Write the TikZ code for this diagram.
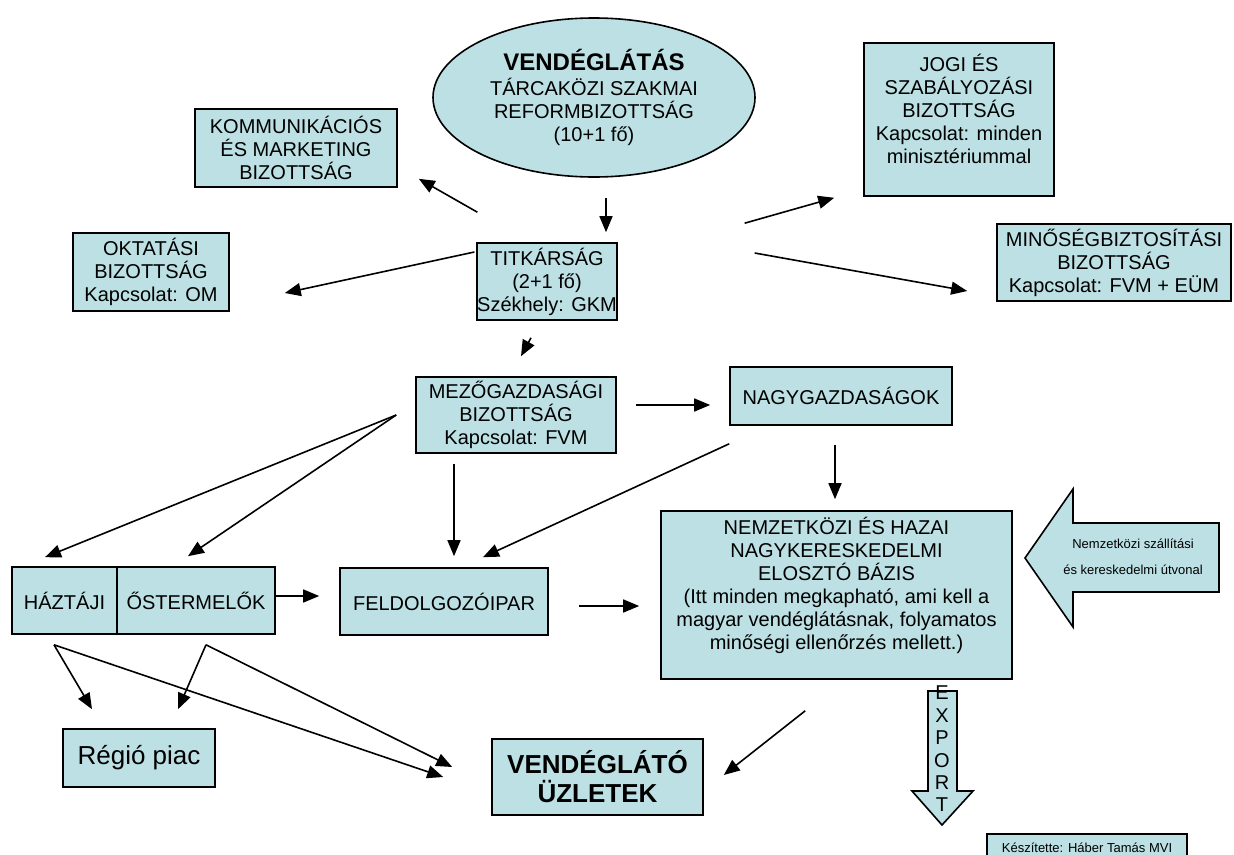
\documentclass[tikz,border=0pt]{standalone}
\usepackage{fontspec}
\setmainfont{Liberation Sans}
\usetikzlibrary{arrows.meta,shapes.geometric,calc}
\definecolor{boxfill}{RGB}{188,224,227}
\begin{document}
\begin{tikzpicture}[x=1pt,y=-1pt,
  box/.style={draw=black,line width=1.6pt,fill=boxfill,align=center,inner sep=0pt,font=\fontsize{20}{23}\selectfont},
  txt/.style={align=center,inner sep=0pt,font=\fontsize{20}{23}\selectfont},
  arr/.style={line width=1.6pt,-{Triangle[length=16pt,width=13pt]}},
  bigarrow/.style={draw=black,line width=1.6pt,fill=boxfill,line join=miter}]
\useasboundingbox (0,0) rectangle (1234,854);

% nodes
\node[box,ellipse,minimum width=322pt,minimum height=159pt] (ell) at (594,97.5)
  {{\fontsize{24}{27}\selectfont\bfseries VENDÉGLÁTÁS}\\[2.5pt]TÁRCAKÖZI SZAKMAI\\REFORMBIZOTTSÁG\\(10+1 fő)};
\node[box,minimum width=202pt,minimum height=78pt] (komm) at (296,148) {KOMMUNIKÁCIÓS\\ÉS MARKETING\\BIZOTTSÁG};
\node[box,minimum width=156pt,minimum height=78pt] (okt) at (151,272) {OKTATÁSI\\BIZOTTSÁG\\Kapcsolat: OM};
\node[box,minimum width=130pt,minimum height=77pt] (titk) at (547,281.5) {TITKÁRSÁG\\(2+1 fő)\\Székhely: GKM};
\node[box,minimum width=190pt,minimum height=153pt] (jogi) at (959,119.5) {};
\node[txt] (jogitxt) at (959,108.5) {JOGI ÉS\\SZABÁLYOZÁSI\\BIZOTTSÁG\\Kapcsolat: minden\\minisztériummal};
\node[box,minimum width=234pt,minimum height=77pt] (minos) at (1114,262.5) {MINŐSÉGBIZTOSÍTÁSI\\BIZOTTSÁG\\Kapcsolat: FVM + EÜM};
\node[box,minimum width=200pt,minimum height=76pt] (mez) at (516,415) {MEZŐGAZDASÁGI\\BIZOTTSÁG\\Kapcsolat: FVM};
\node[box,minimum width=222pt,minimum height=58pt] (nagy) at (841,396) {NAGYGAZDASÁGOK};
\node[box,minimum width=105pt,minimum height=67pt] (haz) at (64.5,600.5) {HÁZTÁJI};
\node[box,minimum width=158pt,minimum height=67pt] (ost) at (196,600.5) {ŐSTERMELŐK};
\node[box,minimum width=208pt,minimum height=67pt] (feld) at (444,601.5) {FELDOLGOZÓIPAR};
\node[box,minimum width=351pt,minimum height=168pt] (nemz) at (836.5,595) {};
\node[txt] (nemztxt) at (836.5,585) {NEMZETKÖZI ÉS HAZAI\\NAGYKERESKEDELMI\\ELOSZTÓ BÁZIS\\(Itt minden megkapható, ami kell a\\magyar vendéglátásnak, folyamatos\\minőségi ellenőrzés mellett.)};
\node[box,minimum width=152pt,minimum height=58pt,font=\fontsize{26}{29}\selectfont] (regio) at (139,758) {Régió piac};
\node[box,minimum width=211pt,minimum height=76pt,font=\fontsize{26}{29}\selectfont\bfseries] (vend) at (597.5,777) {VENDÉGLÁTÓ\\ÜZLETEK};
\node[box,minimum width=200pt,minimum height=28pt,font=\fontsize{13}{15}\selectfont] (kesz) at (1087,848) {Készítette: Háber Tamás MVI};

% big incoming arrow (route)
\draw[bigarrow] (1025,558) -- (1073,489) -- (1073,523) -- (1219,523) -- (1219,592) -- (1073,592) -- (1073,627) -- cycle;
\node[align=center,inner sep=0pt,font=\fontsize{13}{26}\selectfont] (route) at (1133,557) {Nemzetközi szállítási\\és kereskedelmi útvonal};

% export arrow
\draw[bigarrow] (928,691) -- (957,691) -- (957,791) -- (973,791) -- (942,825) -- (912,791) -- (928,791) -- cycle;
\node[align=center,inner sep=0pt,font=\fontsize{20}{22.4}\selectfont] (export) at (942,749) {E\\X\\P\\O\\R\\T};

% connectors
\draw[arr] ($(ell.south)+(12,20)$) -- ($(titk.north)+(59,-10)$);
\draw[arr] ($(titk.north west)+(1,-30)$) -- ($(komm.south east)+(21,-9)$);
\draw[arr] ($(titk.west)+(-2,-29.5)$) -- ($(okt.east)+(55,21)$);
\draw[arr] ($(titk.north east)+(127,-19)$) -- ($(jogi.south west)+(-29,1)$);
\draw[arr] ($(titk.east)+(137,-28.5)$) -- ($(minos.west)+(-29,28.5)$);
\draw[arr] ($(titk.south)+(-16,17)$) -- ($(mez.north)+(5,-20)$);
\draw[arr] ($(mez.east)+(19,-10)$) -- ($(nagy.west)+(-19,9)$);
\draw[arr] ($(mez.west)+(-19,0)$) -- ($(haz.north)+(-19.5,-9)$);
\draw[arr] ($(mez.west)+(-19,0)$) -- ($(ost.north)+(-8,-10)$);
\draw[arr] ($(mez.south)+(-62,10)$) -- ($(feld.north)+(10,-11)$);
\draw[arr] ($(nagy.south west)+(0,18)$) -- ($(feld.north)+(39,-10)$);
\draw[arr] ($(nagy.south)+(-6,19)$) -- ($(nemz.north)+(-1.5,-11)$);
\draw[arr] ($(ost.east)+(-1,-4.5)$) -- ($(feld.west)+(-20,-5.5)$);
\draw[arr] ($(feld.east)+(30,4.5)$) -- ($(nemz.west)+(-21,11)$);
\draw[arr] ($(haz.south)+(-10.5,10)$) -- ($(regio.north)+(-47,-19)$);
\draw[arr] ($(haz.south)+(-10.5,10)$) -- ($(vend.west)+(-48,0)$);
\draw[arr] ($(ost.south)+(10,10)$) -- ($(regio.north)+(39,-19)$);
\draw[arr] ($(ost.south)+(10,10)$) -- ($(vend.west)+(-39,-10)$);
\draw[arr] ($(nemz.south west)+(145,31)$) -- ($(vend.east)+(20,-2)$);
\end{tikzpicture}
\end{document}
